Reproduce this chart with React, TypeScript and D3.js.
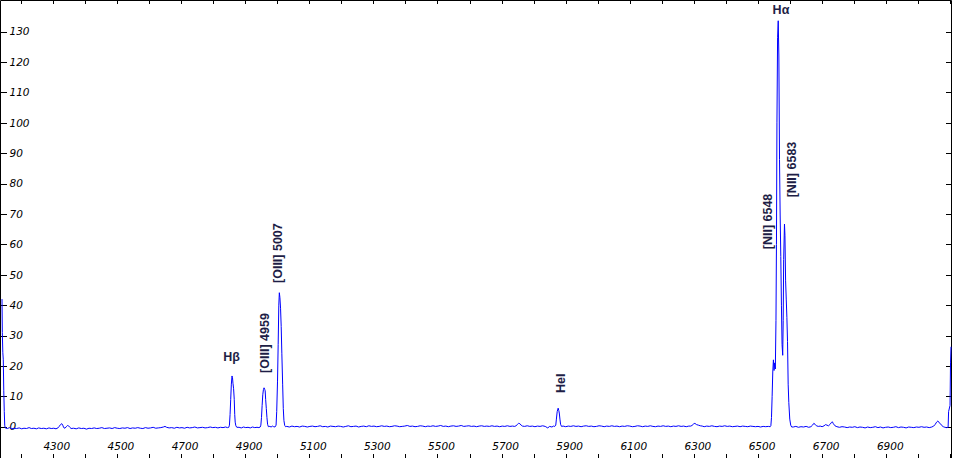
import React from "react";
import * as d3 from "d3";

type Pt = [number, number];

// wavelength (Å), relative flux
const edgeBlue: Pt[] = [
  [4141.5, 42], [4142.5, 31], [4144, 24.5], [4145.5, 22], [4147, 12], [4148.6, 5], [4150, 0.5], [4151.5, -0.4],
];
const continuumBlue: Pt[] = [
  [4158, -0.6], [4165, -0.3], [4172, -0.7], [4180, -0.5], [4187, -0.6], [4195, -0.4], [4203, -0.7], [4210, -0.5],
  [4218, -0.6], [4226, -0.3], [4233, -0.6], [4241, -0.5], [4249, -0.7], [4256, -0.4], [4264, -0.6], [4272, -0.5],
  [4280, -0.7], [4288, -0.4], [4295, -0.6], [4303, -0.5], [4310, -0.7], [4316, -0.4], [4320, 0.1], [4324, 0.7],
  [4328, 1.0], [4331, 0.5], [4334, -0.3], [4338, -0.5], [4342, 0.0], [4346, 0.4], [4349, 0.3], [4353, -0.2],
  [4357, -0.6], [4365, -0.5], [4373, -0.7], [4381, -0.4], [4389, -0.6], [4397, -0.5], [4405, -0.8], [4413, -0.5],
  [4421, -0.6], [4429, -0.4], [4437, -0.6], [4445, -0.5], [4453, -0.3], [4461, -0.6], [4469, -0.5], [4477, -0.4],
  [4485, -0.6], [4493, -0.3], [4501, -0.5], [4509, -0.6], [4517, -0.4], [4525, -0.5], [4533, -0.3], [4541, -0.6],
  [4549, -0.4], [4557, -0.5], [4565, -0.3], [4573, -0.5], [4581, -0.6], [4589, -0.3], [4597, -0.5], [4605, -0.4],
  [4613, -0.2], [4621, -0.5], [4629, -0.4], [4637, -0.3], [4645, -0.1], [4650, 0.1], [4655, -0.2], [4663, -0.4],
  [4671, -0.3], [4679, -0.5], [4687, -0.2], [4695, -0.4], [4703, -0.3], [4711, -0.5], [4719, -0.2], [4727, -0.4],
  [4735, -0.3], [4743, -0.1], [4751, -0.4], [4759, -0.3], [4767, -0.2], [4775, -0.4], [4783, -0.3], [4791, -0.1],
  [4799, -0.3], [4807, -0.2], [4815, -0.4], [4823, -0.2], [4831, -0.3], [4839, -0.1], [4845, -0.3],
];
const hBetaLine: Pt[] = [
  [4849, -0.2], [4851, 0.5], [4853, 4], [4855, 9], [4857, 14], [4859, 16.7], [4860.5, 16.2], [4862, 14.3],
  [4864, 12.5], [4866, 9], [4867.5, 4], [4869, 1.5], [4871, 0.3], [4874, -0.2],
  [4881, -0.2], [4888, -0.4], [4895, -0.1], [4902, -0.3], [4909, -0.2], [4916, -0.4], [4923, -0.1], [4930, -0.3],
  [4937, -0.2], [4943, -0.3],
];
const oiiiLines: Pt[] = [
  [4947, -0.1], [4949, 0.5], [4951, 3], [4953, 7], [4955, 10.5], [4957, 12.2], [4959, 12.8], [4961, 12.3],
  [4962.5, 11.8], [4964, 9], [4966, 6], [4968, 3], [4970, 0.8], [4972.5, 0],
  [4977, 0.1], [4981, -0.1], [4985, 0.2], [4989, 0], [4993, -0.1],
  [4996.5, 0.5], [4998.5, 5], [5001, 15], [5003, 27], [5005, 40], [5006.7, 44.1], [5008.5, 42.5], [5010.5, 39],
  [5012.5, 33], [5014.5, 24], [5017, 14], [5019, 6], [5021, 2], [5023.5, 0.4], [5026, 0],
];
const continuumMid: Pt[] = [
  [5030, 0.1], [5038, -0.1], [5046, 0.2], [5054, 0], [5062, 0.1], [5070, -0.1], [5078, 0.2], [5086, 0.1],
  [5094, -0.1], [5102, 0.1], [5110, 0.2], [5118, 0], [5126, 0.1], [5134, 0.3], [5142, 0], [5150, 0.1],
  [5158, -0.1], [5166, 0.2], [5174, 0.1], [5182, 0], [5190, 0.2], [5198, 0.1], [5206, -0.1], [5214, 0.1],
  [5222, 0.3], [5230, 0], [5238, 0.1], [5246, 0.2], [5254, -0.1], [5262, 0.1], [5270, 0.2], [5278, 0],
  [5286, 0.3], [5294, 0.1], [5302, 0.2], [5310, 0], [5318, 0.1], [5326, 0.3], [5334, 0.1], [5342, 0.2],
  [5350, 0], [5358, 0.1], [5366, 0.3], [5374, 0.2], [5382, 0], [5390, 0.1], [5398, 0.2], [5406, 0.4],
  [5414, 0.1], [5422, 0.2], [5430, 0], [5438, 0.1], [5446, 0.3], [5454, 0.2], [5462, 0], [5470, 0.2],
  [5478, 0.1], [5486, 0.3], [5494, 0.1], [5502, 0.2], [5510, 0.4], [5518, 0.1], [5526, 0.2], [5534, 0],
  [5542, 0.2], [5550, 0.3], [5558, 0.1], [5566, 0.2], [5574, 0.4], [5582, 0.1], [5590, 0.2], [5598, 0.3],
  [5606, 0.1], [5614, 0.2], [5622, 0], [5630, 0.2], [5638, 0.3], [5646, 0.1], [5654, 0.2], [5662, 0.1],
  [5670, 0.3], [5678, 0.1], [5686, 0.2], [5694, 0], [5702, 0.2], [5710, 0.1], [5718, 0.3], [5726, 0.1],
  [5734, 0.2], [5741, 0.1], [5745, 0.3], [5749, 0.7], [5753, 1.1], [5757, 1.0], [5761, 0.5], [5765, 0.2],
  [5772, 0.1], [5780, 0.3], [5788, 0.1], [5796, 0.2], [5804, 0], [5812, 0.2], [5820, 0.1], [5828, 0.3],
  [5836, 0.1], [5844, -0.4], [5850, 0.1], [5857, -0.1], [5862, 0.2], [5866, 0.1],
];
const heILine: Pt[] = [
  [5869, 0.5], [5871, 2.5], [5873.5, 5], [5876.5, 6.1], [5878.5, 5.3], [5880, 4.5], [5882, 2.5], [5884, 0.8],
  [5887, 0.1],
];
const continuumRed: Pt[] = [
  [5892, 0.2], [5900, 0], [5908, 0.2], [5916, 0.1], [5924, 0.3], [5932, 0.1], [5940, 0.2], [5948, 0],
  [5956, 0.2], [5964, 0.3], [5972, 0.1], [5980, 0.2], [5988, 0], [5996, 0.1], [6004, 0.3], [6012, 0.2],
  [6020, 0], [6028, 0.2], [6036, 0.1], [6044, 0.3], [6052, 0.1], [6060, 0.2], [6068, 0], [6076, 0.2],
  [6084, 0.1], [6092, 0.3], [6100, 0.2], [6108, 0], [6116, 0.1], [6124, 0.3], [6132, 0.2], [6140, 0],
  [6148, 0.2], [6156, 0.1], [6164, 0.3], [6172, 0.1], [6180, 0], [6188, 0.2], [6196, 0.1], [6204, 0.3],
  [6212, 0.1], [6220, 0.2], [6228, 0], [6236, 0.2], [6244, 0.1], [6252, 0.3], [6260, 0.1], [6268, 0.2],
  [6276, 0], [6284, 0.2], [6290, 0.2], [6294, 0.4], [6299, 0.9], [6303, 1.1], [6308, 0.7], [6314, 0.5],
  [6320, 0.3], [6326, 0.2], [6332, 0], [6340, 0.2], [6348, 0.1], [6356, 0.3], [6364, 0.1], [6372, 0],
  [6380, 0.2], [6388, 0.1], [6396, 0.3], [6404, 0.1], [6412, 0.2], [6420, 0], [6428, 0.1], [6436, 0.2],
  [6444, 0], [6452, 0.2], [6460, 0.1], [6468, 0], [6476, 0.2], [6484, 0.1], [6492, 0], [6500, 0.1],
  [6508, -0.1], [6516, 0.1], [6524, 0], [6532, 0.1], [6538, 0],
];
const hAlphaComplex: Pt[] = [
  [6540, 0.3], [6542, 3], [6544, 10], [6546, 18], [6548, 22], [6550, 18.5], [6552, 21], [6554, 19],
  [6556, 35], [6557.5, 60], [6559, 100], [6561, 128], [6563, 133.6], [6565, 122], [6567, 88], [6569, 70],
  [6571, 56], [6573, 40], [6575, 27], [6577, 23.5], [6578.5, 35], [6580, 55], [6582.5, 66.7], [6584, 63],
  [6586, 48], [6588, 42], [6590, 36], [6592, 28], [6594, 14], [6596, 8], [6599, 2.5], [6602, 0.5],
  [6605, -0.1],
];
const continuumFar: Pt[] = [
  [6610, -0.1], [6618, 0.1], [6626, -0.2], [6634, 0], [6642, -0.1], [6650, 0.1], [6658, -0.2], [6665, 0],
  [6670, 0.5], [6674, 1.1], [6678, 0.8], [6682, 0.3], [6688, 0.1], [6694, 0.2], [6700, 0], [6706, 0.3],
  [6711, 0.7], [6715, 0.5], [6720, 0.3], [6725, 0.8], [6729, 1.4], [6732, 1.6], [6735, 1.0], [6740, 0.3],
  [6746, 0], [6754, -0.2], [6762, 0], [6770, -0.1], [6778, -0.3], [6786, -0.1], [6794, -0.2], [6802, 0],
  [6810, -0.3], [6818, -0.1], [6826, -0.2], [6834, -0.4], [6842, -0.1], [6850, -0.3], [6858, -0.2], [6866, 0],
  [6874, -0.3], [6882, -0.1], [6890, -0.4], [6898, -0.2], [6906, -0.1], [6914, -0.3], [6922, -0.2], [6930, 0],
  [6938, -0.3], [6946, -0.1], [6954, -0.2], [6962, -0.4], [6970, -0.1], [6978, -0.2], [6986, -0.3], [6994, -0.1],
  [7002, -0.2], [7010, 0], [7018, -0.2], [7026, -0.1], [7034, -0.3], [7042, -0.1], [7048, 0.2], [7053, 0.8],
  [7057, 1.5], [7061, 1.9], [7065, 1.3], [7069, 1.0], [7073, 0.4], [7078, 0], [7083, -0.2], [7088, -0.3],
  [7093, -0.2],
];
const edgeRed: Pt[] = [
  [7094.5, 5], [7099, 7], [7100.5, 21], [7102, 26.3],
];

const spectrum: Pt[] = [
  ...edgeBlue, ...continuumBlue, ...hBetaLine, ...oiiiLines, ...continuumMid,
  ...heILine, ...continuumRed, ...hAlphaComplex, ...continuumFar, ...edgeRed,
];

const yTickValues = [0, 10, 20, 30, 40, 50, 60, 70, 80, 90, 100, 110, 120, 130];
const xMinorTicks = d3.range(4200, 7101, 100);
const xTickLabels = [4300, 4500, 4700, 4900, 5100, 5300, 5500, 5700, 5900, 6100, 6300, 6500, 6700, 6900];

// annotation anchors in data coordinates
const lineLabels = [
  { text: "H\u03b2", wl: 4857.4, flux: 21.5, rotated: false },
  { text: "[OIII] 4959", wl: 4974.4, flux: 17.7, rotated: true },
  { text: "[OIII] 5007", wl: 5016.5, flux: 47.3, rotated: true },
  { text: "HeI", wl: 5896.3, flux: 11.1, rotated: true },
  { text: "H\u03b1", wl: 6571.6, flux: 135.8, rotated: false },
  { text: "[NII] 6548", wl: 6545, flux: 58.4, rotated: true },
  { text: "[NII] 6583", wl: 6619.9, flux: 75.5, rotated: true },
];

const W = 953;
const H = 458;

export default function App() {
  const x = d3.scaleLinear().domain([4141.5, 7102]).range([2, 951]);
  const y = d3.scaleLinear().domain([0, 130]).range([426.7, 31.7]);
  const line = d3
    .line<Pt>()
    .x((d) => x(d[0]))
    .y((d) => y(d[1]));

  const tickFont = { fontFamily: "DejaVu Sans", fontStyle: "italic", fontSize: 10.5, fill: "#000" };
  const labelFont = { fontFamily: "Liberation Sans, Arial, sans-serif", fontWeight: 700, fontSize: 12.5, fill: "#1e1e46" };

  return (
    <svg
      width={W}
      height={H}
      style={{ position: "absolute", left: 0, top: 0, display: "block", background: "#fff" }}
    >
      <rect x={0} y={0} width={W} height={H} fill="#fff" />
      {/* frame */}
      <line x1={0.5} y1={0.5} x2={951.5} y2={0.5} stroke="#000" />
      <line x1={0.5} y1={0.5} x2={0.5} y2={H} stroke="#000" />
      <line x1={951.5} y1={0.5} x2={951.5} y2={H} stroke="#000" />

      {/* y ticks */}
      {yTickValues.map((v) => (
        <g key={"y" + v}>
          <line x1={0} x2={7} y1={Math.round(y(v)) + 0.5} y2={Math.round(y(v)) + 0.5} stroke="#000" />
          <line x1={946} x2={952} y1={Math.round(y(v)) + 0.5} y2={Math.round(y(v)) + 0.5} stroke="#000" />
          <text x={9.5} y={y(v)} dy="0.36em" {...tickFont}>
            {v}
          </text>
        </g>
      ))}

      {/* x ticks */}
      {xMinorTicks.map((t) => (
        <g key={"x" + t}>
          <line x1={Math.round(x(t)) + 0.5} x2={Math.round(x(t)) + 0.5} y1={0} y2={4} stroke="#000" />
          <line x1={Math.round(x(t)) + 0.5} x2={Math.round(x(t)) + 0.5} y1={454} y2={H} stroke="#000" />
        </g>
      ))}
      {xTickLabels.map((t) => (
        <text key={"xl" + t} x={x(t) + 4} y={449.5} textAnchor="middle" {...tickFont}>
          {t}
        </text>
      ))}

      {/* spectrum */}
      <path d={line(spectrum) || ""} fill="none" stroke="#0000ff" strokeWidth={1} />

      {/* line identifications */}
      {lineLabels.map((l) =>
        l.rotated ? (
          <text
            key={l.text}
            transform={`translate(${x(l.wl)},${y(l.flux)}) rotate(-90)`}
            textAnchor="start"
            {...labelFont}
          >
            {l.text}
          </text>
        ) : (
          <text key={l.text} x={x(l.wl)} y={y(l.flux)} textAnchor="middle" {...labelFont}>
            {l.text}
          </text>
        )
      )}
    </svg>
  );
}
